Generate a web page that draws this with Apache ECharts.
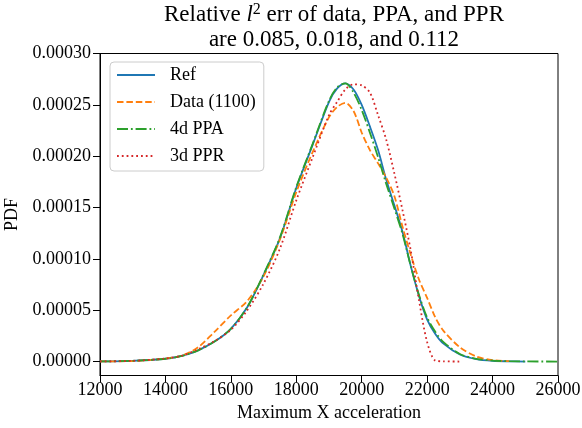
<!DOCTYPE html>
<html>
<head>
<meta charset="utf-8">
<script src="https://cdn.jsdelivr.net/npm/echarts@6/dist/echarts.min.js"></script>
<style>html,body{margin:0;padding:0;background:#fff}#c{width:582px;height:428px}</style>
</head>
<body>
<div id="c"></div>
<script>
// x grid (Maximum X acceleration)
const xs = [12000,13000,14000,14500,15000,15500,16000,16500,17000,17500,18000,18500,19000,19250,19500,19750,20000,20250,20500,20750,21000,21250,21500,21750,22000,22250,22500,23000,23500,24000,24500,25000,26000];
// PDF values per series (null = not drawn)
const refPdf  = [0.0000002,0.0000008,0.0000028,0.0000055,0.000011,0.0000195,0.000032,0.000053,0.0000845,0.00012,0.000169,0.000211,0.000253,0.000266,0.000271,0.000265,0.00025,0.000229,0.000206,0.000177,0.000152,0.000126,0.000093,0.000064,0.000041,0.000027,0.0000175,0.000007,0.0000025,0.0000008,0.0000003,0.0000001,null];
const dataPdf = [0.0000002,0.0000006,0.000003,0.0000058,0.000014,0.000029,0.000045,0.000059,0.000083,0.000119,0.000165,0.000204,0.000238,0.000248,0.000252,0.000244,0.000223,0.000206,0.000193,0.000179,0.000161,0.000131,0.000104,0.00008,0.000062,0.000043,0.00003,0.000014,0.000005,0.0000015,0.0000004,null,null];
const ppaPdf  = [0.0000002,0.0000008,0.0000028,0.0000055,0.000011,0.0000195,0.000032,0.000053,0.000085,0.000121,0.00017,0.000212,0.000254,0.000267,0.000271,0.000262,0.000245,0.000223,0.000199,0.000173,0.000149,0.000124,0.000093,0.000065,0.000043,0.000029,0.000019,0.0000075,0.0000028,0.000001,0.0000004,0.0000002,0.0000001];
const pprPdf  = [0.0000002,0.0000008,0.000003,0.0000058,0.000012,0.00002,0.000031,0.00005,0.000076,0.00011,0.000157,0.000199,0.00024,0.000253,0.000265,0.00027,0.000269,0.000262,0.00024,0.000216,0.000183,0.000147,0.000108,0.00006,0.000019,0.000001,0.0000003,0.0000001,null,null,null,null,null];
const seriesNames = ['Ref','Data (1100)','4d PPA','3d PPR'];
const yTicks = [0,0.00005,0.0001,0.00015,0.0002,0.00025,0.0003];

const FONT = 'Liberation Serif';
function pts(arr){ const o=[]; xs.forEach((x,i)=>{ if(arr[i]!==null) o.push([x,arr[i]]); }); return o; }
const styles = [
  {color:'#1f77b4', type:'solid'},
  {color:'#ff7f0e', type:[6.5,2.9]},
  {color:'#2ca02c', type:[11,2.9,1.8,2.9]},
  {color:'#d62728', type:[1.8,3.0]}
];
const vals = [refPdf,dataPdf,ppaPdf,pprPdf];

const chart = echarts.init(document.getElementById('c'), null, {renderer:'canvas'});
chart.setOption({
  animation:false,
  backgroundColor:'#fff',
  title:{
    text:'{n|Relative }{i|l}{s|2}{n| err of data, PPA, and PPR}\n{n|are 0.085, 0.018, and 0.112}',
    left:329, top:-3, textAlign:'center',
    textStyle:{
      fontFamily:FONT, fontSize:23, fontWeight:'normal', color:'#000', lineHeight:25,
      rich:{
        n:{fontFamily:FONT, fontSize:23, color:'#000', lineHeight:25},
        i:{fontFamily:FONT, fontSize:23, fontStyle:'italic', color:'#000', lineHeight:25},
        s:{fontFamily:FONT, fontSize:16, color:'#000', lineHeight:15, verticalAlign:'top'}
      }
    }
  },
  legend:{
    orient:'vertical', left:110, top:62,
    data:seriesNames,
    itemWidth:38, itemHeight:18, itemGap:9,
    padding:[4,8,6,6],
    backgroundColor:'rgba(255,255,255,0.8)', borderColor:'#cccccc', borderWidth:1, borderRadius:4,
    itemStyle:{opacity:0, borderWidth:0},
    lineStyle:{width:2},
    textStyle:{fontFamily:FONT, fontSize:18, color:'#000', padding:[0,0,0,10]}
  },
  grid:{left:100, right:24, top:53.5, bottom:52.5, show:true, borderColor:'#000', borderWidth:1, containLabel:false, outerBoundsMode:'none'},
  xAxis:{
    type:'value', min:12000, max:26000, interval:2000,
    name:'Maximum X acceleration', nameLocation:'middle', nameGap:28,
    nameTextStyle:{fontFamily:FONT, fontSize:18, color:'#000'},
    axisLine:{show:true, onZero:false, lineStyle:{color:'#000', width:1}},
    axisTick:{show:true, inside:false, length:7, lineStyle:{color:'#000'}},
    axisLabel:{fontFamily:FONT, fontSize:18, color:'#000', margin:6, formatter:v=>String(v)},
    splitLine:{show:false}
  },
  yAxis:{
    type:'value', min:-0.0000135, max:0.0003,
    name:'PDF', nameLocation:'middle', nameGap:66,
    nameTextStyle:{fontFamily:FONT, fontSize:18, color:'#000'},
    axisLine:{show:true, onZero:false, lineStyle:{color:'#000', width:1}},
    axisTick:{show:true, inside:false, length:7, lineStyle:{color:'#000'}, customValues:yTicks},
    axisLabel:{fontFamily:FONT, fontSize:18, color:'#000', margin:9, customValues:yTicks, formatter:v=>v.toFixed(5)},
    splitLine:{show:false}
  },
  series: seriesNames.map((n,k)=>({
    name:n, type:'line', data:pts(vals[k]), showSymbol:false, symbol:'none',
    smooth:0.3, clip:true,
    lineStyle:{color:styles[k].color, width:1.8, type:styles[k].type, cap:'butt'},
    itemStyle:{color:styles[k].color}
  }))
});
</script>
</body>
</html>
